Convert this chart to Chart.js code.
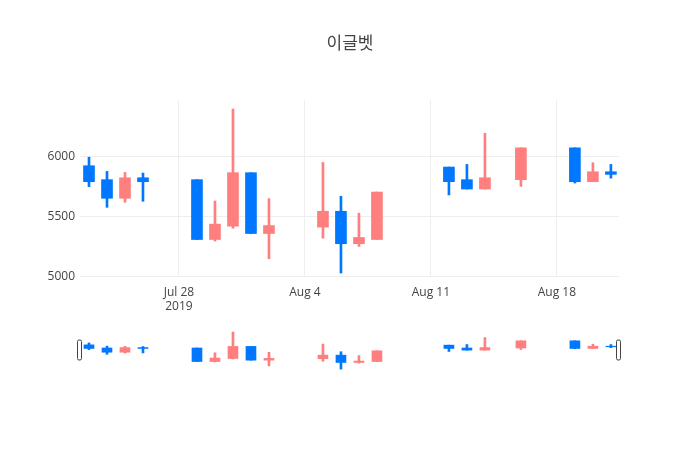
<!DOCTYPE html>
<html>
<head>
<meta charset="utf-8">
<script src="https://cdn.jsdelivr.net/npm/chart.js@4.4.1/dist/chart.umd.min.js"></script>
<style>
  html, body { margin: 0; padding: 0; background: #fff; }
  #wrap { position: relative; width: 700px; height: 450px; }
  #main { position: absolute; left: 0; top: 0; }
  #slider { position: absolute; left: 0; top: 330px; }
</style>
</head>
<body>
<div id="wrap">
  <canvas id="main" width="700" height="450"></canvas>
  <canvas id="slider" width="700" height="40"></canvas>
</div>
<script>
const title = '이글벳';

const dates = [
  '2019-07-23', '2019-07-24', '2019-07-25', '2019-07-26',
  '2019-07-29', '2019-07-30', '2019-07-31', '2019-08-01', '2019-08-02',
  '2019-08-05', '2019-08-06', '2019-08-07', '2019-08-08',
  '2019-08-12', '2019-08-13', '2019-08-14', '2019-08-16',
  '2019-08-19', '2019-08-20', '2019-08-21',
];
const openPrices  = [5923, 5807, 5652, 5823, 5807, 5309, 5420, 5865, 5359, 5412, 5544, 5274, 5309, 5912, 5807, 5729, 5807, 6072, 5790, 5873];
const highPrices  = [5994, 5876, 5867, 5862, 5807, 5630, 6395, 5865, 5649, 5950, 5669, 5528, 5704, 5912, 5934, 6193, 6072, 6072, 5948, 5934];
const lowPrices   = [5749, 5577, 5619, 5627, 5309, 5296, 5403, 5359, 5149, 5320, 5030, 5251, 5309, 5680, 5729, 5729, 5751, 5779, 5790, 5820];
const closePrices = [5790, 5652, 5823, 5790, 5309, 5437, 5865, 5359, 5425, 5544, 5274, 5326, 5704, 5790, 5729, 5823, 6072, 5790, 5873, 5851];

// x axis: days counted from the first tick date
const baseDate = '2019-07-28';
const xTickDays = [0, 7, 14, 21];
const xTickLabels = [['Jul 28', '2019'], 'Aug 4', 'Aug 11', 'Aug 18'];
const yTickValues = [5000, 5500, 6000];

const upColor = '#FF7F7F';
const downColor = '#0077FF';
const fontFamily = '"Open Sans", "Noto Sans CJK KR", sans-serif';

const dayOf = d => (Date.parse(d) - Date.parse(baseDate)) / 86400000;
const colorOf = i => closePrices[i] >= openPrices[i] ? upColor : downColor;

const bodies = dates.map((d, i) => ({x: dayOf(d), y: [openPrices[i], closePrices[i]]}));
const wicks = dates.map((d, i) => ({x: dayOf(d), y: [lowPrices[i], highPrices[i]]}));
const colors = dates.map((d, i) => colorOf(i));

const xRange = {min: -5.5, max: 24.45};
const yRange = {min: 4997, max: 6470};

function candleDatasets(bodyWidth, wickWidth) {
  return [
    {data: bodies, backgroundColor: colors, barThickness: bodyWidth, grouped: false, borderWidth: 0},
    {data: wicks, backgroundColor: colors, barThickness: wickWidth, grouped: false, borderWidth: 0},
  ];
}

new Chart(document.getElementById('main'), {
  type: 'bar',
  data: {datasets: candleDatasets(11, 2)},
  options: {
    responsive: false,
    animation: false,
    layout: {padding: 0},
    plugins: {
      legend: {display: false},
      tooltip: {enabled: false},
      title: {
        display: true,
        text: title,
        color: '#444',
        font: {family: fontFamily, size: 17, weight: 'normal'},
        padding: {top: 34, bottom: 45.6},
      },
    },
    scales: {
      x: {
        type: 'linear',
        min: xRange.min,
        max: xRange.max,
        offset: false,
        grid: {offset: false, color: '#eee', drawTicks: false},
        border: {display: false},
        afterBuildTicks: s => { s.ticks = xTickDays.map(v => ({value: v})); },
        afterFit: s => { s.height = 173; },
        ticks: {
          padding: 8,
          maxRotation: 0,
          autoSkip: false,
          color: '#444',
          font: {family: fontFamily, size: 12},
          callback: v => xTickLabels[xTickDays.indexOf(v)],
        },
      },
      y: {
        type: 'linear',
        min: yRange.min,
        max: yRange.max,
        beginAtZero: false,
        grid: {color: '#eee', drawTicks: false},
        border: {display: false},
        afterBuildTicks: s => { s.ticks = yTickValues.map(v => ({value: v})); },
        afterFit: s => { s.width = 80; },
        ticks: {
          padding: 5,
          color: '#444',
          font: {family: fontFamily, size: 12},
          callback: v => String(v),
        },
      },
      // empty right margin so the title stays centred on the page
      margin: {
        type: 'linear',
        position: 'right',
        grid: {display: false},
        border: {display: false},
        ticks: {display: false},
        afterFit: s => { s.width = 81; },
      },
    },
  },
});

// range slider handles at both ends
const handles = {
  id: 'handles',
  afterDraw(chart) {
    const {ctx, chartArea} = chart;
    const h = 20, w = 4;
    const top = (chartArea.top + chartArea.bottom) / 2 - h / 2;
    [chartArea.left, chartArea.right].forEach(x => {
      ctx.save();
      ctx.beginPath();
      ctx.roundRect(x - w / 2 - 0.5, top, w, h, 1.5);
      ctx.fillStyle = '#fff';
      ctx.fill();
      ctx.strokeStyle = '#444';
      ctx.lineWidth = 1;
      ctx.stroke();
      ctx.restore();
    });
  },
};

new Chart(document.getElementById('slider'), {
  type: 'bar',
  data: {datasets: candleDatasets(10, 2)},
  plugins: [handles],
  options: {
    responsive: false,
    animation: false,
    layout: {padding: {left: 80, right: 81, top: 0, bottom: 0}},
    plugins: {legend: {display: false}, tooltip: {enabled: false}},
    scales: {
      x: {type: 'linear', min: xRange.min, max: xRange.max, display: false, offset: false, grid: {offset: false}},
      y: {type: 'linear', min: yRange.min, max: yRange.max, beginAtZero: false, display: false},
    },
  },
});
</script>
</body>
</html>
